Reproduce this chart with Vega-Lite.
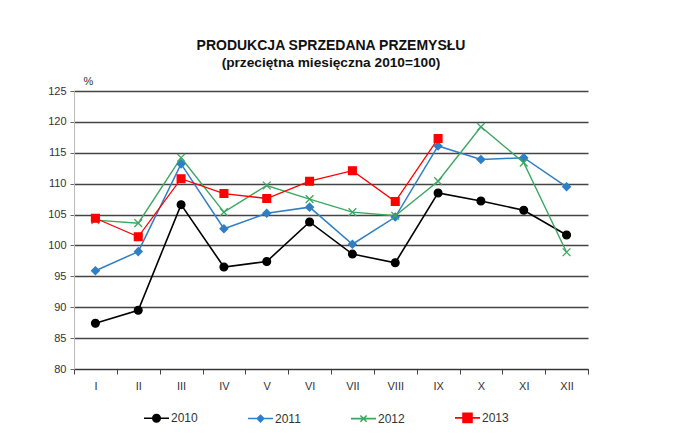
{
  "$schema": "https://vega.github.io/schema/vega-lite/v6.json",
  "width": 514,
  "height": 278,
  "autosize": {"type": "none"},
  "padding": {"left": 74, "top": 91, "right": 95, "bottom": 68},
  "background": "white",
  "title": {
    "text": "PRODUKCJA  SPRZEDANA  PRZEMYSŁU",
    "subtitle": "(przeciętna miesięczna 2010=100)",
    "font": "Liberation Sans",
    "fontSize": 14,
    "fontWeight": "bold",
    "color": "#111",
    "subtitleFont": "Liberation Sans",
    "subtitleFontSize": 13.7,
    "subtitleFontWeight": "bold",
    "subtitleColor": "#111",
    "subtitlePadding": 3,
    "anchor": "middle",
    "offset": 5
  },
  "config": {
    "view": {"stroke": null},
    "axis": {"labelFont": "Liberation Sans", "labelFontSize": 11, "labelColor": "#333", "titleFont": "Liberation Sans"}
  },
  "data": {
    "values": [
      {"month": "I", "year": "2010", "value": 87.4},
      {"month": "II", "year": "2010", "value": 89.5},
      {"month": "III", "year": "2010", "value": 106.6},
      {"month": "IV", "year": "2010", "value": 96.5},
      {"month": "V", "year": "2010", "value": 97.4},
      {"month": "VI", "year": "2010", "value": 103.8},
      {"month": "VII", "year": "2010", "value": 98.6},
      {"month": "VIII", "year": "2010", "value": 97.2},
      {"month": "IX", "year": "2010", "value": 108.5},
      {"month": "X", "year": "2010", "value": 107.2},
      {"month": "XI", "year": "2010", "value": 105.7},
      {"month": "XII", "year": "2010", "value": 101.7},
      {"month": "I", "year": "2011", "value": 95.9},
      {"month": "II", "year": "2011", "value": 99.0},
      {"month": "III", "year": "2011", "value": 113.2},
      {"month": "IV", "year": "2011", "value": 102.7},
      {"month": "V", "year": "2011", "value": 105.2},
      {"month": "VI", "year": "2011", "value": 106.2},
      {"month": "VII", "year": "2011", "value": 100.2},
      {"month": "VIII", "year": "2011", "value": 104.6},
      {"month": "IX", "year": "2011", "value": 116.1},
      {"month": "X", "year": "2011", "value": 113.9},
      {"month": "XI", "year": "2011", "value": 114.2},
      {"month": "XII", "year": "2011", "value": 109.5},
      {"month": "I", "year": "2012", "value": 104.1},
      {"month": "II", "year": "2012", "value": 103.6},
      {"month": "III", "year": "2012", "value": 114.2},
      {"month": "IV", "year": "2012", "value": 105.4},
      {"month": "V", "year": "2012", "value": 109.7},
      {"month": "VI", "year": "2012", "value": 107.5},
      {"month": "VII", "year": "2012", "value": 105.4},
      {"month": "VIII", "year": "2012", "value": 104.8},
      {"month": "IX", "year": "2012", "value": 110.4},
      {"month": "X", "year": "2012", "value": 119.2},
      {"month": "XI", "year": "2012", "value": 113.4},
      {"month": "XII", "year": "2012", "value": 98.9},
      {"month": "I", "year": "2013", "value": 104.4},
      {"month": "II", "year": "2013", "value": 101.4},
      {"month": "III", "year": "2013", "value": 110.8},
      {"month": "IV", "year": "2013", "value": 108.4},
      {"month": "V", "year": "2013", "value": 107.6},
      {"month": "VI", "year": "2013", "value": 110.4},
      {"month": "VII", "year": "2013", "value": 112.1},
      {"month": "VIII", "year": "2013", "value": 107.1},
      {"month": "IX", "year": "2013", "value": 117.3}
    ]
  },
  "encoding": {
    "x": {
      "field": "month",
      "type": "nominal",
      "sort": ["I", "II", "III", "IV", "V", "VI", "VII", "VIII", "IX", "X", "XI", "XII"],
      "scale": {"paddingInner": 0, "paddingOuter": 0},
      "axis": {
        "title": null,
        "labelAngle": 0,
        "tickBand": "extent",
        "tickSize": 5,
        "tickColor": "#444",
        "domainColor": "#333",
        "labelPadding": 6,
        "grid": false
      }
    },
    "y": {
      "field": "value",
      "type": "quantitative",
      "scale": {"domain": [80, 125], "nice": false, "zero": false},
      "axis": {
        "values": [80, 85, 90, 95, 100, 105, 110, 115, 120, 125],
        "title": "%",
        "titleAngle": 0,
        "titleX": 14,
        "titleY": -5,
        "titleAlign": "center",
        "titleBaseline": "bottom",
        "titleFontSize": 11,
        "titleFontWeight": "normal",
        "titleColor": "#333",
        "grid": true,
        "gridColor": "#444",
        "gridWidth": 1.3,
        "domainColor": "#bbb",
        "tickColor": "#666",
        "tickSize": 4,
        "labelPadding": 4
      }
    }
  },
  "resolve": {"legend": {"color": "independent"}},
  "layer": [
    {
      "mark": {"type": "line"},
      "encoding": {
        "color": {
          "field": "year",
          "type": "nominal",
          "scale": {"domain": ["2010", "2011", "2012", "2013"], "range": ["#000000", "#2f7fc4", "#3aa860", "#ff0000"]},
          "legend": {
            "title": null,
            "orient": "none",
            "direction": "horizontal",
            "legendX": 69,
            "legendY": 313,
            "symbolSize": 625,
            "labelFont": "Liberation Sans",
            "labelFontSize": 12,
            "labelColor": "#333",
            "labelOffset": 1,
            "columnPadding": 46,
            "encode": {
              "symbols": {
                "update": {
                  "shape": {"signal": "datum.value == '2010' ? 'M-1,0H1M-0.3,0A0.3,0.3 0 1,0 0.3,0A0.3,0.3 0 1,0 -0.3,0Z' : datum.value == '2011' ? 'M-1,0H1M0,-0.26L0.26,0L0,0.26L-0.26,0Z' : datum.value == '2012' ? 'M-1,0H1M-0.25,-0.25L0.25,0.25M-0.25,0.25L0.25,-0.25' : 'M-1,0H1M-0.36,-0.36H0.36V0.36H-0.36Z'"},
                  "stroke": {"signal": "scale('color', datum.value)"},
                  "fill": {"signal": "scale('color', datum.value)"},
                  "strokeWidth": {"value": 1.6},
                  "opacity": {"value": 1}
                }
              }
            }
          }
        },
        "strokeWidth": {
          "field": "year",
          "type": "nominal",
          "scale": {"domain": ["2010", "2011", "2012", "2013"], "range": [1.6, 1.3, 1.5, 2.2]},
          "legend": null
        }
      }
    },
    {
      "mark": {"type": "point", "filled": true, "opacity": 1, "strokeWidth": 1.3},
      "encoding": {
        "color": {
          "field": "year",
          "type": "nominal",
          "scale": {"domain": ["2010", "2011", "2012", "2013"], "range": ["#000000", "#2f7fc4", "#3aa860", "#ff0000"]},
          "legend": null
        },
        "shape": {
          "field": "year",
          "type": "nominal",
          "scale": {"domain": ["2010", "2011", "2012", "2013"], "range": ["circle", "diamond", "M-1,-1L1,1M-1,1L1,-1", "square"]},
          "legend": null
        },
        "size": {
          "field": "year",
          "type": "nominal",
          "scale": {"domain": ["2010", "2011", "2012", "2013"], "range": [60, 60, 28, 100]},
          "legend": null
        },
        "stroke": {
          "field": "year",
          "type": "nominal",
          "scale": {"domain": ["2010", "2011", "2012", "2013"], "range": ["#000000", "#2f7fc4", "#3aa860", "#ff0000"]},
          "legend": null
        }
      }
    }
  ]
}
